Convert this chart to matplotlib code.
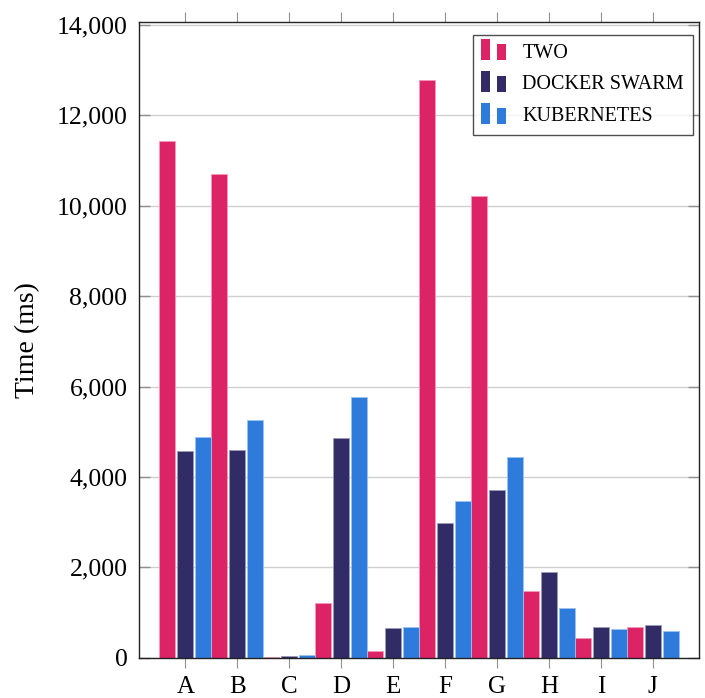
import matplotlib
matplotlib.use("Agg")
import numpy as np
import matplotlib.pyplot as plt
from matplotlib.patches import Rectangle
from matplotlib.legend_handler import HandlerBase
from matplotlib.ticker import FuncFormatter

plt.rcParams["font.family"] = ["Liberation Serif", "DejaVu Serif"]

categories = ["A", "B", "C", "D", "E", "F", "G", "H", "I", "J"]
two = [11440, 10700, 20, 1210, 155, 12790, 10220, 1485, 445, 675]
docker_swarm = [4565, 4595, 40, 4865, 660, 2975, 3705, 1900, 690, 730]
kubernetes = [4890, 5250, 70, 5765, 675, 3465, 4440, 1100, 635, 590]
series_names = ["TWO", "DOCKER SWARM", "KUBERNETES"]
colors = ["#dc2366", "#312c66", "#2f7bdb"]
edge_colors = ["#f49ab9", "#9d9ab8", "#9cc2f0"]


class TwoBarHandler(HandlerBase):
    # ybar style legend image: a tall and a short bar side by side
    def create_artists(self, legend, orig_handle, xdescent, ydescent,
                       width, height, fontsize, trans):
        fc = orig_handle.get_facecolor()
        w = width * 0.36
        y0 = -ydescent - height * 0.15
        tall = Rectangle((-xdescent, y0), w, height * 1.45, facecolor=fc,
                         edgecolor="none", transform=trans)
        short = Rectangle((-xdescent + width - w, y0), w, height * 1.1,
                          facecolor=fc, edgecolor="none", transform=trans)
        return [tall, short]


fig = plt.figure(figsize=(7.05, 6.98), dpi=100)
ax = fig.add_axes([0.1965, 0.0577, 0.795, 0.9108])

x = np.arange(len(categories))
offset = 0.346
bw = 0.31
handles = []
for i, vals in enumerate([two, docker_swarm, kubernetes]):
    bars = ax.bar(x + (i - 1) * offset, vals, width=bw, color=colors[i],
                  edgecolor=edge_colors[i], linewidth=0.6, zorder=2,
                  label=series_names[i])
    handles.append(bars.patches[0])

ax.set_xlim(-0.9, 9.89)
ax.set_ylim(0, 14066)
ax.set_xticks(x)
ax.set_xticklabels(categories)
ax.set_yticks(np.arange(0, 14001, 2000))
ax.yaxis.set_major_formatter(FuncFormatter(lambda v, p: f"{int(v):,}"))

ax.yaxis.grid(True, color="#cfcfcf", linewidth=1.0, zorder=0)
ax.set_axisbelow(True)

ax.tick_params(axis="x", which="both", top=True, bottom=True, direction="out",
               length=7, width=0.8, color="#909090", labelsize=18, pad=6)
ax.tick_params(axis="y", which="both", left=True, right=True, direction="in",
               length=8, width=1.0, color="#909090", labelsize=18.5, pad=8)
for s in ax.spines.values():
    s.set_color("#222222")
    s.set_linewidth(1.0)

ax.set_ylabel("Time (ms)", fontsize=20, labelpad=12)

leg = ax.legend(handles, series_names, handler_map={Rectangle: TwoBarHandler()},
                loc="upper right", bbox_to_anchor=(0.9885, 0.98), fontsize=14.5,
                frameon=True, fancybox=False, edgecolor="#222222",
                handlelength=1.25, handleheight=0.75, handletextpad=0.8,
                labelspacing=0.62, borderpad=0.42, borderaxespad=0.0)
leg.get_frame().set_linewidth(1.0)

fig.savefig("out.png", dpi=100)
plt.close(fig)
